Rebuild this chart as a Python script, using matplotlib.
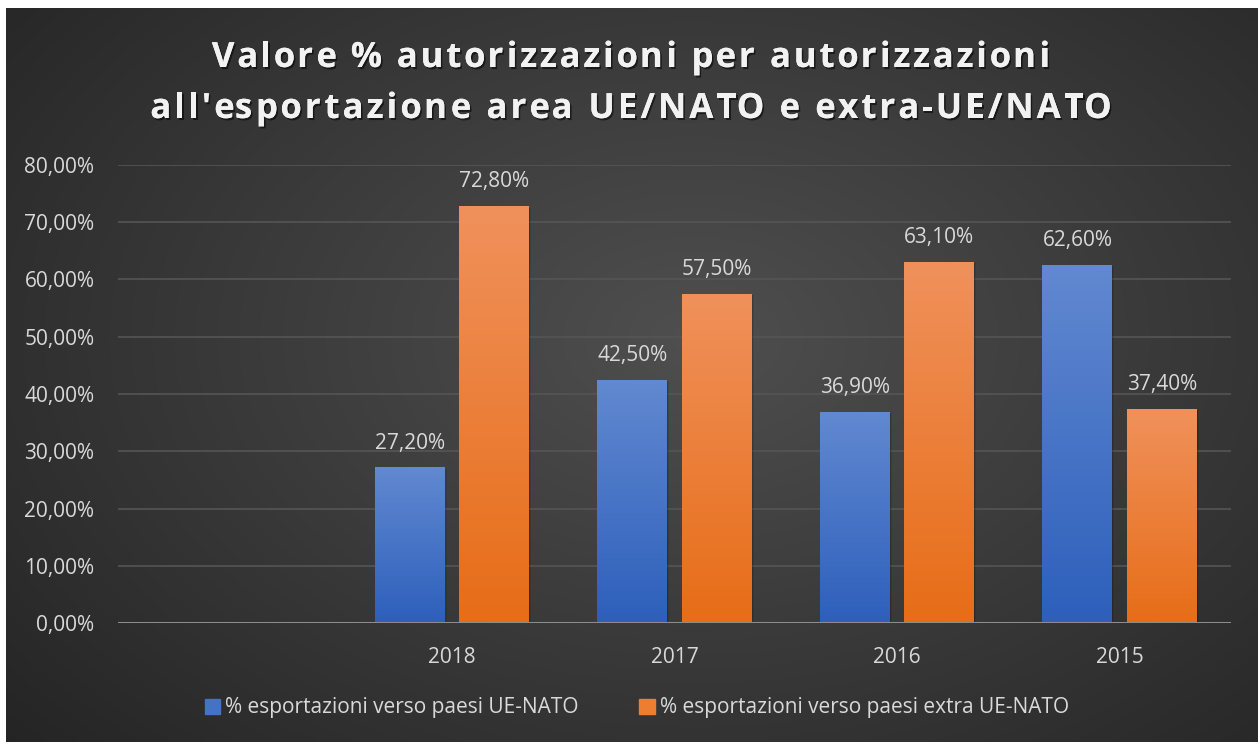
import matplotlib
matplotlib.use("Agg")
import matplotlib.pyplot as plt
import numpy as np
from matplotlib.colors import LinearSegmentedColormap
from matplotlib.font_manager import FontProperties
import matplotlib.patheffects as pe

categories = ["", "2018", "2017", "2016", "2015"]
ue_nato = [None, 27.2, 42.5, 36.9, 62.6]
extra_ue_nato = [None, 72.8, 57.5, 63.1, 37.4]
series_names = ["% esportazioni verso paesi UE-NATO",
                "% esportazioni verso paesi extra UE-NATO"]
yticks = [0, 10, 20, 30, 40, 50, 60, 70, 80]
title_lines = ["Valore % autorizzazioni per autorizzazioni",
               "all'esportazione area UE/NATO e extra-UE/NATO"]

W, H = 1258, 742
fig = plt.figure(figsize=(W / 100, H / 100), dpi=100)
fig.patch.set_facecolor("white")

# background radial gradient
bg = fig.add_axes([6 / W, 0, 1 - 6 / W, 1 - 8 / H])
bg.set_axis_off()
yy, xx = np.mgrid[0:1:300j, 0:1:500j]
r = np.sqrt(((xx - 0.55) / 0.75) ** 2 + ((yy - 0.55) / 0.85) ** 2)
val = np.clip(0.31 - 0.17 * r, 0.14, 0.31)
bg.imshow(np.dstack([val, val, val]), aspect="auto", extent=[0, 1, 0, 1], origin="lower")

fontfam = ["Open Sans", "DejaVu Sans"]
plt.rcParams["font.family"] = fontfam
FS = 15
txtc = "#d9d9d9"

ax = fig.add_axes([118 / W, (H - 623) / H, (1231 - 118) / W, (623 - 165) / H])
ax.set_facecolor("none")
x = np.arange(len(categories))
bw = 0.314
off = 0.19

def vals(a):
    return [np.nan if v is None else v for v in a]

blue_cmap = LinearSegmentedColormap.from_list("b", ["#2d5fbb", "#6289d1"])
orange_cmap = LinearSegmentedColormap.from_list("o", ["#e76d17", "#f0915c"])

b1 = ax.bar(x - off, vals(ue_nato), bw, color="#4472c4", zorder=3, label=series_names[0])
b2 = ax.bar(x + off, vals(extra_ue_nato), bw, color="#ed7d31", zorder=3, label=series_names[1])

grad = np.linspace(0, 1, 256).reshape(-1, 1)
for bars, cm in ((b1, blue_cmap), (b2, orange_cmap)):
    for p in bars:
        h = p.get_height()
        if not np.isfinite(h):
            continue
        x0 = p.get_x()
        im = ax.imshow(grad, cmap=cm, aspect="auto", origin="lower",
                       extent=[x0, x0 + p.get_width(), 0, h], zorder=4)
        im.set_clip_path(p)
        for k, a in ((0.004, 0.15), (0.009, 0.08)):
            sh = plt.Rectangle((x0 + k, 0), p.get_width(), h - 0.25, color="black",
                               alpha=a, zorder=2, lw=0)
            ax.add_patch(sh)

for bars, data in ((b1, ue_nato), (b2, extra_ue_nato)):
    for p, v in zip(bars, data):
        if v is None:
            continue
        ax.text(p.get_x() + p.get_width() / 2, v + 2.4, f"{v:.2f}%".replace(".", ","),
                ha="center", va="bottom", color=txtc, fontsize=FS, zorder=5)

ax.set_xlim(-0.5, len(categories) - 0.5)
ax.set_ylim(0, 80)
ax.set_yticks(yticks)
ax.set_yticklabels([f"{t:.2f}%".replace(".", ",") for t in yticks])
ax.set_xticks(x)
ax.set_xticklabels(categories)
ax.tick_params(axis="both", length=0, colors=txtc, labelsize=FS)
ax.tick_params(axis="y", pad=17)
ax.tick_params(axis="x", pad=17)
for s in ax.spines.values():
    s.set_visible(False)
ax.grid(axis="y", color="#555555", lw=1.2, zorder=0)
ax.set_axisbelow(True)
ax.axhline(0, color="#8c8c8c", lw=2.2, zorder=6)

leg = fig.legend(handles=[b1, b2], loc="center", bbox_to_anchor=(637 / W, (H - 708) / H),
                 ncol=2, frameon=False, fontsize=FS, labelcolor=txtc,
                 handlelength=0.75, handleheight=0.75, handletextpad=0.25, columnspacing=2.9)
for h, c in zip(leg.legend_handles, ["#4472c4", "#ed7d31"]):
    h.set_color(c)

# title with letter spacing
renderer = fig.canvas.get_renderer()
tprop = FontProperties(family=fontfam, weight="bold", size=25)

def tw(s):
    return renderer.get_text_width_height_descent(s, tprop, ismath=False)[0]

def spaced_line(s, xc, baseline, spacing):
    ref = tw("x")
    pos = [tw(s[:i] + "x") - ref + i * spacing for i in range(len(s))]
    total = tw(s) + (len(s) - 1) * spacing
    x0 = xc - total / 2
    for ch, p in zip(s, pos):
        if ch == " ":
            continue
        fig.text((x0 + p) / W, (H - baseline) / H, ch, ha="left", va="baseline",
                 fontproperties=tprop, color="#f2f2f2",
                 path_effects=[pe.withSimplePatchShadow(offset=(1.2, -1.5), alpha=0.55,
                                                        shadow_rgbFace="black"),
                               pe.Normal()])

spaced_line(title_lines[0], 631, 67, 2.8)
spaced_line(title_lines[1], 631, 118, 3.1)

fig.savefig("out.png", dpi=100, facecolor=fig.get_facecolor())
